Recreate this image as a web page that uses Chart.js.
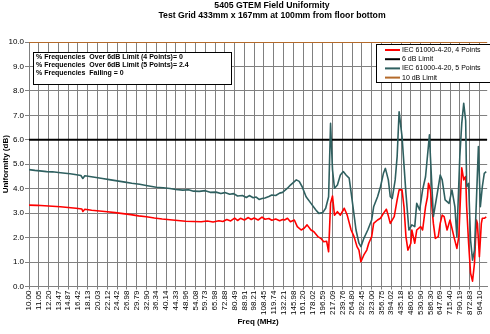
<!DOCTYPE html>
<html>
<head>
<meta charset="utf-8">
<script src="https://cdn.jsdelivr.net/npm/chart.js@4"></script>
<style>
  html, body { margin: 0; padding: 0; background: #fff; }
  #wrap { width: 490px; height: 334px; position: relative; }
</style>
</head>
<body>
<div id="wrap"><canvas id="c" width="490" height="334"></canvas></div>
<script>
// Frequency tick labels (MHz), one every 10 sweep steps
const freqLabels = ['10.00','11.05','12.20','13.47','14.87','16.42','18.13','20.03','22.12','24.42',
  '26.98','29.79','32.90','36.34','40.14','44.33','48.96','54.08','59.73','65.98','72.88','80.49',
  '88.91','98.21','108.45','119.74','132.21','145.98','161.20','178.02','196.59','217.09','239.76',
  '264.80','292.45','323.00','356.75','394.02','435.18','480.65','530.90','586.30','647.69','715.40',
  '790.19','872.83','964.10'];
const lastStep = 468;

// IEC 61000-4-20, 4 points: sweep step index and uniformity (dB)
const fourPointIdx = [0,8,16,24,32,40,48,54,55,57,64,72,80,88,96,104,112,120,128,136,
  144,152,160,168,176,182,188,194,198,202,206,210,213,216,220,224,227,230,234,238,
  241,245,248,252,256,259,
  261,264,267,271,274,278,281,284,288,291,295,298,301,304,306,308,310,312,315,318,
  322,325,329,332,335,337,339,342,345,347,350,352,356,359,362,365,367,369,373,376,
  378,381,383,385,387,390,391,394,396,400,402,405,407,408,410,413,415,418,420,422,
  424,427,430,434,437,439,441,442,444,446,447,449,451,453,455,457,458,460,462,463,465,467];
const fourPointDb = [3.33,3.32,3.30,3.28,3.26,3.23,3.20,3.17,3.07,3.16,3.12,3.09,3.06,3.02,2.98,2.94,2.89,2.85,2.80,2.76,
  2.73,2.70,2.67,2.66,2.65,2.68,2.64,2.69,2.66,2.74,2.68,2.80,2.70,2.79,2.72,2.82,2.74,2.80,2.72,2.84,
  2.75,2.78,2.71,2.76,2.69,2.74,
  2.72,2.79,2.65,2.72,2.45,2.31,2.38,2.52,2.31,2.24,2.04,1.97,1.83,1.85,1.42,3.40,3.70,2.92,3.06,2.92,
  3.20,2.92,2.31,2.04,1.63,1.49,1.01,1.29,1.49,1.77,2.04,2.58,2.72,2.79,2.99,3.16,2.89,2.58,2.86,3.54,
  3.95,3.95,3.26,2.04,1.49,1.77,2.31,1.77,2.31,2.45,2.31,3.26,3.67,4.22,3.95,2.58,1.97,2.04,2.58,2.92,
  2.86,2.31,2.72,2.04,1.56,2.04,3.95,4.85,4.36,4.50,3.26,1.77,0.54,0.22,0.95,2.72,2.58,1.22,2.58,2.79,2.79,2.85];

// IEC 61000-4-20, 5 points
const fivePointIdx = [0,6,11,18,24,30,37,42,47,53,55,57,62,67,75,82,90,98,105,113,
  121,130,137,144,150,157,163,168,174,180,185,191,196,200,205,209,213,218,222,225,
  229,232,235,238,241,245,248,252,256,259,
  261,264,267,273,276,279,283,288,293,296,300,303,306,308,310,312,315,318,321,324,
  327,330,334,337,339,342,346,350,352,356,359,362,364,367,369,371,374,376,378,381,
  385,388,391,394,396,399,402,405,409,410,413,417,420,422,425,429,432,435,437,440,
  442,444,446,447,449,451,453,455,457,459,461,463,465,467];
const fivePointDb = [4.78,4.75,4.73,4.70,4.69,4.66,4.63,4.61,4.58,4.54,4.42,4.53,4.50,4.47,4.42,4.37,4.32,4.27,4.22,4.18,
  4.12,4.06,4.04,4.01,3.97,3.94,3.96,3.90,3.89,3.92,3.85,3.86,3.80,3.84,3.77,3.80,3.70,3.72,3.64,3.72,
  3.63,3.66,3.56,3.60,3.62,3.68,3.74,3.72,3.82,3.85,
  3.92,4.02,4.15,4.36,4.30,4.08,3.67,3.40,3.13,2.99,3.02,3.20,3.67,6.67,4.77,4.02,4.15,4.56,4.70,4.55,
  4.43,3.54,2.31,1.77,1.63,1.97,2.31,2.72,3.26,3.67,4.08,4.63,4.83,4.36,3.67,3.60,4.36,5.31,7.15,6.13,
  3.81,2.31,2.52,2.45,3.40,3.13,3.95,4.49,6.20,5.31,2.86,3.81,4.56,4.36,3.54,3.40,3.95,3.26,2.04,5.31,
  6.67,7.49,6.78,4.08,4.22,1.90,1.08,1.49,3.54,5.72,3.26,4.08,4.63,4.70];

// Limit levels (dB)
const limit6 = 6;
const limit10 = 10;

// Summary figures
const pctOver6Four = '0';
const pctOver6Five = '2.4';
const pctFailing = '0';

const titleLines = ['5405 GTEM Field Uniformity', 'Test Grid 433mm x 167mm at 100mm from floor bottom'];
const summaryLines = [
  '% Frequencies  Over 6dB Limit (4 Points)= ' + pctOver6Four,
  '% Frequencies  Over 6dB Limit (5 Points)= ' + pctOver6Five,
  '% Frequencies  Failing = ' + pctFailing
];

const FONT = '"Liberation Sans", Arial, sans-serif';
const TEAL = '#2f6060';
const BROWN = '#b46a2a';

const pairs = (xs, ys) => xs.map((x, i) => ({ x, y: ys[i] }));

const datasets = [
  { label: 'IEC 61000-4-20, 4 Points', data: pairs(fourPointIdx, fourPointDb), borderColor: '#ff0000', borderWidth: 1.6, order: 4 },
  { label: '6 dB Limit', data: [{ x: 0, y: limit6 }, { x: lastStep, y: limit6 }], borderColor: '#000000', borderWidth: 2, order: 3 },
  { label: 'IEC 61000-4-20, 5 Points', data: pairs(fivePointIdx, fivePointDb), borderColor: TEAL, borderWidth: 1.6, order: 2 },
  { label: '10 dB Limit', data: [{ x: 0, y: limit10 }, { x: lastStep, y: limit10 }], borderColor: BROWN, borderWidth: 2, order: 1 }
];
datasets.forEach(d => { d.pointRadius = 0; d.tension = 0; d.fill = false; d.borderJoinStyle = 'round'; });

// Title, summary box and legend drawn onto the canvas
const annotations = {
  id: 'annotations',
  afterDraw(chart) {
    const ctx = chart.ctx;
    ctx.save();
    ctx.fillStyle = '#000';
    ctx.textAlign = 'center';
    ctx.textBaseline = 'middle';
    ctx.font = 'bold 8.7px ' + FONT;
    ctx.fillText(titleLines[0], 272, 5.5);
    ctx.fillText(titleLines[1], 272, 15.5);

    // summary box
    ctx.fillStyle = '#fff';
    ctx.fillRect(33.5, 52.5, 198, 32);
    ctx.strokeStyle = '#000';
    ctx.lineWidth = 1;
    ctx.strokeRect(33.5, 52.5, 198, 32);
    ctx.fillStyle = '#000';
    ctx.textAlign = 'left';
    ctx.font = 'bold 7px ' + FONT;
    summaryLines.forEach((t, i) => ctx.fillText(t, 36, 57 + i * 7.8));

    // legend
    ctx.fillStyle = '#fff';
    ctx.fillRect(376.5, 44.5, 120, 38);
    ctx.strokeRect(376.5, 44.5, 120, 38);
    ctx.font = '7px ' + FONT;
    chart.data.datasets.forEach((d, i) => {
      const y = 50 + i * 9.2;
      ctx.strokeStyle = d.borderColor;
      ctx.lineWidth = 2;
      ctx.beginPath();
      ctx.moveTo(385, y);
      ctx.lineTo(400, y);
      ctx.stroke();
      ctx.fillStyle = '#000';
      ctx.fillText(d.label, 402, y);
    });
    ctx.restore();
  }
};

new Chart(document.getElementById('c'), {
  type: 'line',
  data: { datasets },
  options: {
    responsive: false,
    animation: false,
    devicePixelRatio: 1,
    layout: { padding: { top: 42, right: 1, bottom: 0, left: 0 } },
    plugins: { legend: { display: false }, title: { display: false }, tooltip: { enabled: false } },
    scales: {
      x: {
        type: 'linear',
        min: 0,
        max: lastStep,
        afterBuildTicks: (scale) => { scale.ticks = freqLabels.map((_, i) => ({ value: i * 10 })); },
        afterFit: (scale) => { scale.height = 47.5; },
        ticks: {
          autoSkip: false,
          maxRotation: 90,
          minRotation: 90,
          padding: 1,
          color: '#000',
          font: { family: FONT, size: 8 },
          callback: (v) => freqLabels[Math.round(v / 10)] ?? ''
        },
        grid: { color: '#808080', lineWidth: 1, tickLength: 3 },
        border: { color: '#808080' },
        title: { display: true, text: 'Freq (MHz)', color: '#000', font: { family: FONT, size: 8, weight: 'bold' }, padding: { top: 0, bottom: 7 } }
      },
      y: {
        min: 0,
        max: 10,
        afterFit: (scale) => { scale.width = 29; },
        ticks: {
          stepSize: 1,
          padding: 1,
          color: '#000',
          font: { family: FONT, size: 8 },
          callback: (v) => v.toFixed(1)
        },
        grid: { color: '#808080', lineWidth: 1, tickLength: 4 },
        border: { color: '#808080' },
        title: { display: true, text: 'Uniformity (dB)', color: '#000', font: { family: FONT, size: 8, weight: 'bold' }, padding: { top: 1, bottom: 0 } }
      }
    }
  },
  plugins: [annotations]
});
</script>
</body>
</html>
